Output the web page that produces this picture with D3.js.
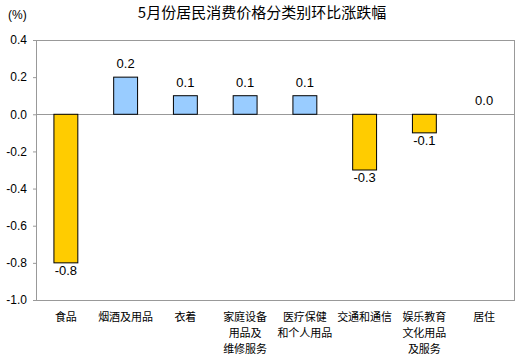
<!DOCTYPE html>
<html><head><meta charset="utf-8">
<script src="https://cdn.jsdelivr.net/npm/d3@7"></script>
<style>body{margin:0;background:#fff}svg{display:block}</style>
</head><body>
<svg id="c" width="517" height="355"></svg>
<script>
const categories = [["食品"],["烟酒及用品"],["衣着"],["家庭设备","用品及","维修服务"],["医疗保健","和个人用品"],["交通和通信"],["娱乐教育","文化用品","及服务"],["居住"]];
const values = [-0.8, 0.2, 0.1, 0.1, 0.1, -0.3, -0.1, 0.0];
const valueLabels = ["-0.8","0.2","0.1","0.1","0.1","-0.3","-0.1","0.0"];
const yTicks = [0.4,0.2,0.0,-0.2,-0.4,-0.6,-0.8,-1.0];
const title = "5月份居民消费价格分类别环比涨跌幅";
const unit = "(%)";

const svg = d3.select("#c");
const L=36, R=514, T=40, B=300;
const x = d3.scaleBand().domain(d3.range(values.length)).range([L,R]).paddingInner(0.6).paddingOuter(0.3);
const y = d3.scaleLinear().domain([-1.0,0.4]).range([B,T]);
const cjk = "'SimSun','Noto Sans CJK SC',sans-serif";
const lat = "Arial,'Liberation Sans',sans-serif";

svg.append("text").attr("x",262).attr("y",18).attr("text-anchor","middle")
  .attr("font-family",cjk).attr("font-size",15).attr("fill","#000").text(title);
svg.append("text").attr("x",8).attr("y",19).attr("font-family",lat).attr("font-size",12).text(unit);

// plot border
svg.append("rect").attr("x",L).attr("y",T).attr("width",R-L).attr("height",B-T)
  .attr("fill","none").attr("stroke","#999").attr("stroke-width",1).attr("shape-rendering","crispEdges");

const ax = svg.append("g").attr("transform",`translate(${L},0)`)
  .call(d3.axisLeft(y).tickValues(yTicks).tickFormat(d3.format(".1f")).tickSize(3).tickPadding(6));
ax.select(".domain").attr("stroke","#999");
ax.selectAll(".tick line").attr("stroke","#999");
ax.selectAll(".tick text").attr("font-family",lat).attr("font-size",12).attr("fill","#000").text(d=>d3.format(".1f")(d).replace("−","-"));

// zero line
svg.append("line").attr("x1",L).attr("x2",R).attr("y1",y(0)).attr("y2",y(0))
  .attr("stroke","#999").attr("shape-rendering","crispEdges");

svg.selectAll("rect.bar").data(values).join("rect").attr("class","bar")
  .attr("x",(d,i)=>x(i)).attr("width",x.bandwidth())
  .attr("y",d=>y(Math.max(0,d))).attr("height",d=>Math.abs(y(d)-y(0)))
  .attr("fill",d=>d>=0?"#99CCFF":"#FFCC00").attr("stroke","#000").attr("stroke-width",1)
  .attr("display",d=>d===0?"none":null);

svg.selectAll("text.val").data(values).join("text").attr("class","val")
  .attr("x",(d,i)=>x(i)+x.bandwidth()/2)
  .attr("y",d=>d>=0?y(d)-9:y(d)+12)
  .attr("text-anchor","middle").attr("font-family",lat).attr("font-size",13).attr("fill","#000")
  .text((d,i)=>valueLabels[i]);

const catLines = [];
categories.forEach((lines,i)=>lines.forEach((t,j)=>catLines.push({i,j,t})));
svg.selectAll("text.cat").data(catLines).join("text").attr("class","cat")
  .attr("x",d=>x(d.i)+x.bandwidth()/2).attr("y",d=>321+d.j*16)
  .attr("text-anchor","middle").attr("font-family",cjk).attr("font-size",11).attr("fill","#000")
  .text(d=>d.t);
</script>
</body></html>
